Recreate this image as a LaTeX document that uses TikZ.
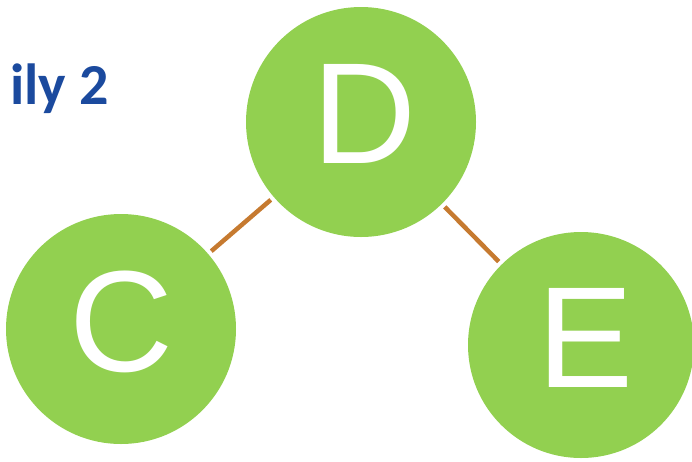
\documentclass[tikz,border=0pt]{standalone}
\usepackage{fontspec}
\setmainfont{Liberation Sans}
\newfontfamily\titlefont{Carlito}
\definecolor{leafgreen}{HTML}{92D050}
\definecolor{linkbrown}{HTML}{C67A30}
\definecolor{titleblue}{HTML}{1B4A9E}
\tikzset{
  person/.style={circle, fill=leafgreen, draw=none, minimum size=#1, inner sep=0pt},
  letter/.style={text=white, inner sep=0pt, font=\fontsize{144}{144}\selectfont},
  link/.style={draw=linkbrown, line width=4.5pt, shorten <=4pt, shorten >=4pt},
}
\begin{document}
\begin{tikzpicture}[x=1pt, y=-1pt]
  \useasboundingbox (0,0) rectangle (692,461);
  % family members
  \node[person=230pt] (D) at (361,122) {};
  \node[person=230pt] (C) at (121,329) {};
  \node[person=226pt] (E) at (581,345) {};
  \node[letter] (Dl) at (364,113.5) {D};
  \node[letter] (Cl) at (121,322) {C};
  \node[letter] (El) at (586,337.5) {E};
  % relations
  \draw[link] (C) -- (D);
  \draw[link] (D) -- (E);
  % heading
  \node[anchor=base east, inner sep=0pt, text=titleblue,
        font=\titlefont\bfseries\fontsize{58}{58}\selectfont] (title) at (109,104) {ily 2};
\end{tikzpicture}
\end{document}
